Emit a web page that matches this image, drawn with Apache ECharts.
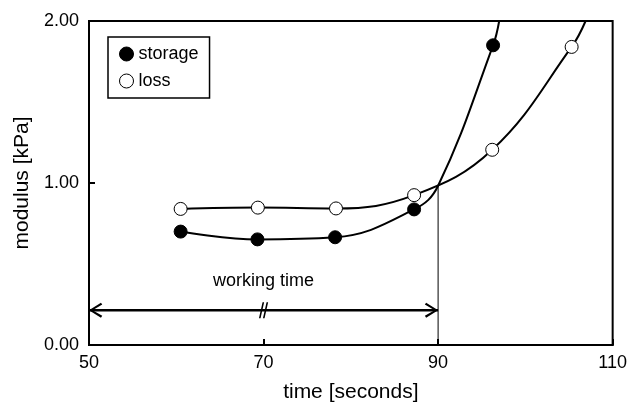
<!DOCTYPE html>
<html>
<head>
<meta charset="utf-8">
<script src="https://cdn.jsdelivr.net/npm/echarts@6/dist/echarts.min.js"></script>
<style>
  html, body { margin: 0; padding: 0; background: #fff; }
  #chart { width: 630px; height: 408px; }
</style>
</head>
<body>
<div id="chart"></div>
<script>
// Measured storage (G') and loss (G'') modulus during setting
const storageTime = [60.5, 69.3, 78.2, 87.25, 96.3];
const storageModulus = [0.70, 0.652, 0.665, 0.837, 1.85];
const lossTime = [60.5, 69.35, 78.3, 87.25, 96.2, 105.3];
const lossModulus = [0.84, 0.848, 0.843, 0.925, 1.205, 1.84];

// Crossover of the two fitted curves (end of working time)
const crossover = [90, 0.983];
// Where each fitted curve leaves the top of the plot
const storageCurveEnd = [97.0, 2.0];
const lossCurveEnd = [106.9, 2.0];

// Working-time annotation
const workingTimeRange = [50, 90];
const workingTimeLevel = 0.215;
const workingTimeLabelPos = [70, 0.395];
const workingTimeLabel = 'working time';

// Axis ticks
const xTicks = [50, 70, 90, 110];
const yTicks = [0, 1, 2];

const FONT = 'Liberation Sans, Arial, Helvetica, sans-serif';

function pairs(xs, ys) { return xs.map((x, i) => [x, ys[i]]); }
function fitCurve(points, extra) {
  return points.concat(extra).sort((a, b) => a[0] - b[0]);
}

const storagePts = pairs(storageTime, storageModulus);
const lossPts = pairs(lossTime, lossModulus);

const arrowRight = 'path://M0,0 L-12,-7.5 L-13.3,-5.6 L-3.6,0 L-13.3,5.6 L-12,7.5 Z';
const arrowLeft = 'path://M0,0 L12,-7.5 L13.3,-5.6 L3.6,0 L13.3,5.6 L12,7.5 Z';
const breakMark = 'path://M-1,-8 L0.6,-8 L-3,8 L-4.6,8 Z M3,-8 L4.6,-8 L1,8 L-0.6,8 Z';

const chart = echarts.init(document.getElementById('chart'), null, { renderer: 'canvas' });

chart.setOption({
  backgroundColor: '#fff',
  animation: false,
  textStyle: { fontFamily: FONT, color: '#000' },
  grid: {
    left: 89, right: 13, top: 21, bottom: 57,
    show: true, borderColor: '#000', borderWidth: 2
  },
  legend: {
    left: 108, top: 37,
    orient: 'vertical',
    data: [
      { name: 'storage', icon: 'circle', itemStyle: { color: '#000', borderColor: '#000', borderWidth: 1 } },
      { name: 'loss', icon: 'circle', itemStyle: { color: '#fff', borderColor: '#000', borderWidth: 1 } }
    ],
    itemWidth: 14, itemHeight: 14, itemGap: 9, itemTextGap: 7,
    padding: [8, 11, 8, 11],
    borderColor: '#000', borderWidth: 1.5,
    textStyle: { fontFamily: FONT, fontSize: 18, color: '#000', lineHeight: 18 }
  },
  xAxis: {
    type: 'value',
    min: xTicks[0], max: xTicks[xTicks.length - 1], interval: xTicks[1] - xTicks[0],
    name: 'time [seconds]', nameLocation: 'middle', nameGap: 37,
    nameTextStyle: { fontFamily: FONT, fontSize: 21, color: '#000' },
    axisLine: { show: true, lineStyle: { color: '#000', width: 2 } },
    axisTick: { show: true, inside: true, length: 6, lineStyle: { color: '#000', width: 2 } },
    axisLabel: { fontFamily: FONT, fontSize: 18, color: '#000', margin: 9 },
    splitLine: { show: false }
  },
  yAxis: {
    type: 'value',
    min: yTicks[0], max: yTicks[yTicks.length - 1], interval: yTicks[1] - yTicks[0],
    name: 'modulus [kPa]', nameLocation: 'middle', nameGap: 55,
    nameTextStyle: { fontFamily: FONT, fontSize: 21, color: '#000' },
    axisLine: { show: true, lineStyle: { color: '#000', width: 2 } },
    axisTick: { show: true, inside: true, length: 6, lineStyle: { color: '#000', width: 2 } },
    axisLabel: { fontFamily: FONT, fontSize: 18, color: '#000', margin: 10,
                 formatter: v => v.toFixed(2) },
    splitLine: { show: false }
  },
  series: [
    {
      name: 'storage fit', type: 'line', smooth: 0.4,
      showSymbol: false, symbol: 'none', silent: true, z: 2,
      lineStyle: { color: '#000', width: 2 },
      data: fitCurve(storagePts, [crossover, storageCurveEnd])
    },
    {
      name: 'loss fit', type: 'line', smooth: 0.4,
      showSymbol: false, symbol: 'none', silent: true, z: 2,
      lineStyle: { color: '#000', width: 2 },
      data: fitCurve(lossPts, [lossCurveEnd])
    },
    {
      name: 'crossover', type: 'line', symbol: 'none', silent: true, z: 2,
      lineStyle: { color: '#000', width: 1 },
      data: [[crossover[0], 0], crossover]
    },
    {
      name: 'working time line', type: 'line', symbol: 'none', silent: true, z: 3,
      lineStyle: { color: '#000', width: 2.5 },
      data: workingTimeRange.map(x => [x, workingTimeLevel])
    },
    {
      name: 'working time marks', type: 'scatter', silent: true, z: 4,
      itemStyle: { color: '#000', opacity: 1 },
      data: [
        { value: [workingTimeRange[0], workingTimeLevel], symbol: arrowLeft,
          symbolSize: [13.3, 15], symbolOffset: [6.6, 0] },
        { value: [workingTimeRange[1], workingTimeLevel], symbol: arrowRight,
          symbolSize: [13.3, 15], symbolOffset: [-6.6, 0] },
        { value: [(workingTimeRange[0] + workingTimeRange[1]) / 2, workingTimeLevel],
          symbol: breakMark, symbolSize: [9.2, 16] }
      ]
    },
    {
      name: 'working time label', type: 'scatter', silent: true, z: 4,
      symbolSize: 0, itemStyle: { opacity: 1 },
      label: { show: true, position: 'inside', formatter: workingTimeLabel,
               fontFamily: FONT, fontSize: 18, color: '#000' },
      data: [workingTimeLabelPos]
    },
    {
      name: 'storage', type: 'scatter', symbol: 'circle', symbolSize: 13, z: 5,
      itemStyle: { color: '#000', borderColor: '#000', borderWidth: 1, opacity: 1 },
      data: storagePts
    },
    {
      name: 'loss', type: 'scatter', symbol: 'circle', symbolSize: 13, z: 5,
      itemStyle: { color: '#fff', borderColor: '#000', borderWidth: 1, opacity: 1 },
      data: lossPts
    }
  ]
});
</script>
</body>
</html>
